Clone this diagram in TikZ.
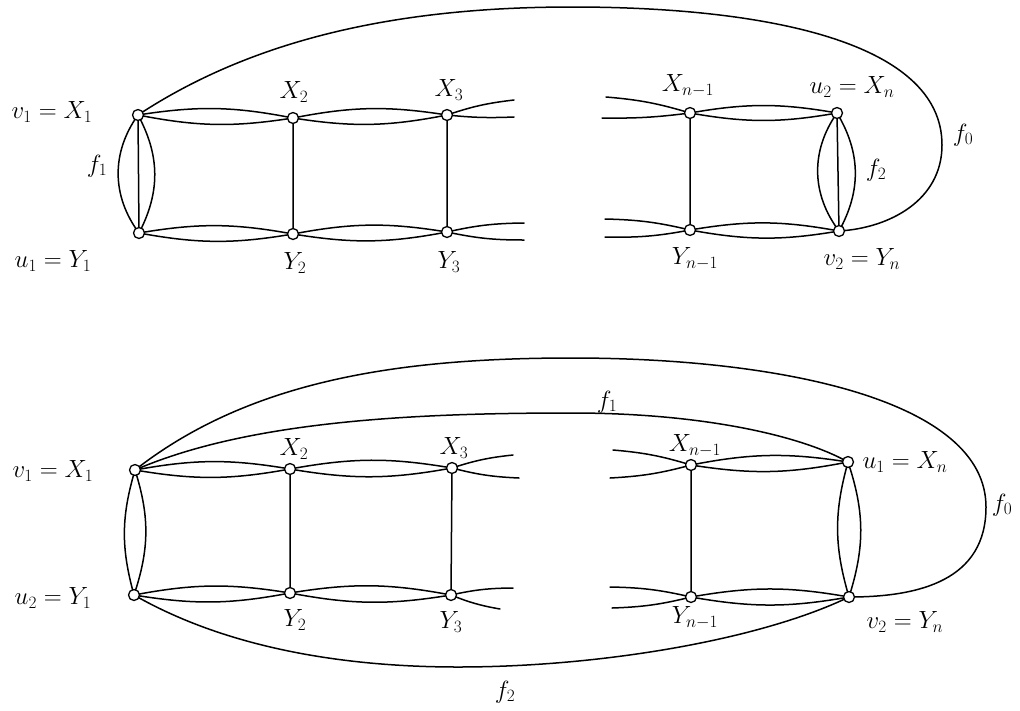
\documentclass[tikz,border=0pt]{standalone}
\begin{document}
\begin{tikzpicture}[x=1pt,y=-1pt,line width=1.5pt,line cap=round,line join=round,
  vtx/.style={circle,draw,fill=white,inner sep=0pt,minimum size=11pt,line width=1.3pt},
  lab/.style={font=\fontsize{23}{27}\selectfont,inner sep=0pt},
  upb/.style={bend left=10},
  dnb/.style={bend right=10}]
\useasboundingbox (0,0) rectangle (1020,710);

% ---------------- top diagram ----------------
\coordinate (a1) at (138,115);
\coordinate (b1) at (139,233);
\coordinate (a2) at (293,118);
\coordinate (b2) at (293,234);
\coordinate (a3) at (447,115);
\coordinate (b3) at (447,232);
\coordinate (am) at (690,113);
\coordinate (bm) at (690,230);
\coordinate (an) at (837,113);
\coordinate (bn) at (839,231);
\coordinate (a3u) at (514,100);
\coordinate (a3l) at (514,117);
\coordinate (b3u) at (524,223);
\coordinate (b3l) at (524,240);
\coordinate (amu) at (606,97);
\coordinate (aml) at (602,118);
\coordinate (bmu) at (605,219);
\coordinate (bml) at (605,237);

% f0 outer curve
\draw (a1) .. controls (255,38) and (400,7) .. (572,7)
           .. controls (760,7) and (942,40) .. (942,145)
           .. controls (942,200) and (890,228) .. (bn);
% rows
\draw (a1) to[upb] (a2) (a1) to[dnb] (a2);
\draw (a2) to[upb] (a3) (a2) to[dnb] (a3);
\draw (b1) to[upb] (b2) (b1) to[dnb] (b2);
\draw (b2) to[upb] (b3) (b2) to[dnb] (b3);
\draw (am) to[upb] (an) (am) to[dnb] (an);
\draw (bm) to[upb] (bn) (bm) to[dnb] (bn);
% dangling
\draw (a3) to[bend left=6] (a3u) (a3) to[bend right=4] (a3l);
\draw (b3) to[bend left=6] (b3u) (b3) to[bend right=6] (b3l);
\draw (am) to[bend right=6] (amu) (am) to[bend left=4] (aml);
\draw (bm) to[bend right=6] (bmu) (bm) to[bend left=6] (bml);
% verticals
\draw (a1) -- (b1) (a2) -- (b2) (a3) -- (b3) (am) -- (bm) (an) -- (bn);
\draw (a1) to[bend right=36] (b1) (a1) to[bend left=28] (b1);
\draw (an) to[bend right=36] (bn) (an) to[bend left=30] (bn);

\foreach \v in {a1,b1,a2,b2,a3,b3,am,bm,an,bn} \node[vtx] (t\v) at (\v) {};

\node[lab] (l1) at (52,112) {$v_1 = X_1$};
\node[lab] (l2) at (97,166) {$f_1$};
\node[lab] (l3) at (53,261) {$u_1 = Y_1$};
\node[lab] (l4) at (294,92) {$X_2$};
\node[lab] (l5) at (449,90) {$X_3$};
\node[lab] (l6) at (295,263) {$Y_2$};
\node[lab] (l7) at (449,262) {$Y_3$};
\node[lab] (l8) at (688,86) {$X_{n-1}$};
\node[lab] (l9) at (852,87) {$u_2 = X_n$};
\node[lab] (l10) at (876,170) {$f_2$};
\node[lab] (l11) at (963,135) {$f_0$};
\node[lab] (l12) at (695,259) {$Y_{n-1}$};
\node[lab] (l13) at (862,259) {$v_2 = Y_n$};

% ---------------- bottom diagram ----------------
\coordinate (A1) at (135,470);
\coordinate (B1) at (134,595);
\coordinate (A2) at (290,469);
\coordinate (B2) at (290,593);
\coordinate (A3) at (452,468);
\coordinate (B3) at (451,595);
\coordinate (Am) at (691,465);
\coordinate (Bm) at (691,597);
\coordinate (An) at (848,462);
\coordinate (Bn) at (849,597);
\coordinate (A3u) at (513,455);
\coordinate (A3l) at (519,478);
\coordinate (B3u) at (513,588);
\coordinate (B3l) at (500,609);
\coordinate (Amu) at (613,450);
\coordinate (Aml) at (610,478);
\coordinate (Bmu) at (610,587);
\coordinate (Bml) at (612,608);

% f0, f1, f2 curves
\draw (A1) .. controls (250,380) and (400,358) .. (572,358)
           .. controls (780,358) and (986,400) .. (986,507)
           .. controls (986,580) and (920,597) .. (Bn);
\draw (A1) .. controls (250,420) and (420,413) .. (572,413)
           .. controls (700,413) and (800,435) .. (An);
\draw (B1) .. controls (230,650) and (350,667) .. (458,667)
           .. controls (600,667) and (760,640) .. (Bn);
% rows
\draw (A1) to[upb] (A2) (A1) to[dnb] (A2);
\draw (A2) to[upb] (A3) (A2) to[dnb] (A3);
\draw (B1) to[upb] (B2) (B1) to[dnb] (B2);
\draw (B2) to[upb] (B3) (B2) to[dnb] (B3);
\draw (Am) to[upb] (An) (Am) to[dnb] (An);
\draw (Bm) to[upb] (Bn) (Bm) to[dnb] (Bn);
% dangling
\draw (A3) to[bend left=6] (A3u) (A3) to[bend right=6] (A3l);
\draw (B3) to[bend left=6] (B3u) (B3) to[bend right=6] (B3l);
\draw (Am) to[bend right=6] (Amu) (Am) to[bend left=6] (Aml);
\draw (Bm) to[bend right=6] (Bmu) (Bm) to[bend left=6] (Bml);
% verticals
\draw (A2) -- (B2) (A3) -- (B3) (Am) -- (Bm);
\draw (A1) to[bend right=16] (B1) (A1) to[bend left=18] (B1);
\draw (An) to[bend right=16] (Bn) (An) to[bend left=18] (Bn);

\foreach \v in {A1,B1,A2,B2,A3,B3,Am,Bm,An,Bn} \node[vtx] (u\v) at (\v) {};

\node[lab] (m1) at (53,471) {$v_1 = X_1$};
\node[lab] (m2) at (53,598) {$u_2 = Y_1$};
\node[lab] (m3) at (294,449) {$X_2$};
\node[lab] (m4) at (454,448) {$X_3$};
\node[lab] (m5) at (295,620) {$Y_2$};
\node[lab] (m6) at (451,622) {$Y_3$};
\node[lab] (m7) at (695,446) {$X_{n-1}$};
\node[lab] (m8) at (905,462) {$u_1 = X_n$};
\node[lab] (m9) at (695,618) {$Y_{n-1}$};
\node[lab] (m10) at (905,622) {$v_2 = Y_n$};
\node[lab] (m11) at (1002,505) {$f_0$};
\node[lab] (m12) at (607,402) {$f_1$};
\node[lab] (m13) at (505,692) {$f_2$};
\end{tikzpicture}
\end{document}
